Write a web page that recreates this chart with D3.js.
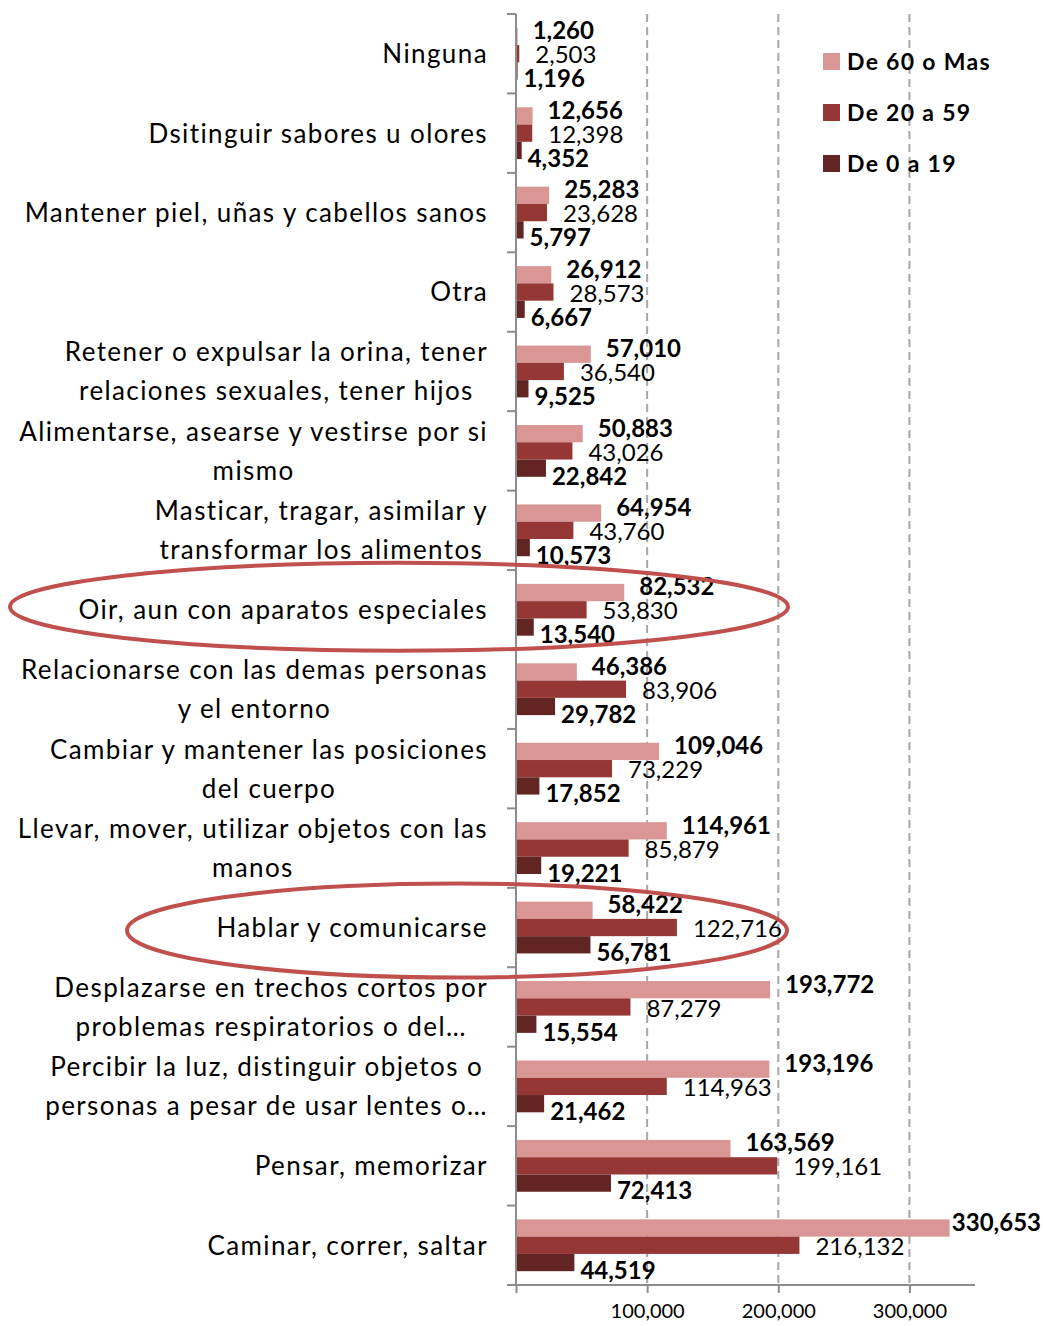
<!DOCTYPE html>
<html>
<head>
<meta charset="utf-8">
<script src="https://cdn.jsdelivr.net/npm/d3@7"></script>
<style>
  body { margin: 0; background: #fff; }
  svg text { font-family: Lato, "Open Sans", sans-serif; fill: #000; }
</style>
</head>
<body>
<svg id="chart"></svg>
<script>
// categories top to bottom, "\n" marks a line break
const categories = [
    "Ninguna",
    "Dsitinguir sabores u olores",
    "Mantener piel, uñas y cabellos sanos",
    "Otra",
    "Retener o expulsar la orina, tener\nrelaciones sexuales, tener hijos",
    "Alimentarse, asearse y vestirse por si\nmismo",
    "Masticar, tragar, asimilar y\ntransformar los alimentos",
    "Oir, aun con aparatos especiales",
    "Relacionarse con las demas personas\ny el entorno",
    "Cambiar y mantener las posiciones\ndel cuerpo",
    "Llevar, mover, utilizar objetos con las\nmanos",
    "Hablar y comunicarse",
    "Desplazarse en trechos cortos por\nproblemas respiratorios o del…",
    "Percibir la luz, distinguir objetos o\npersonas a pesar de usar lentes o…",
    "Pensar, memorizar",
    "Caminar, correr, saltar"
];
const seriesNames = ["De 60 o Mas", "De 20 a 59", "De 0 a 19"];
const de60 = [1260, 12656, 25283, 26912, 57010, 50883, 64954, 82532, 46386, 109046, 114961, 58422, 193772, 193196, 163569, 330653];
const de20 = [2503, 12398, 23628, 28573, 36540, 43026, 43760, 53830, 83906, 73229, 85879, 122716, 87279, 114963, 199161, 216132];
const de0 = [1196, 4352, 5797, 6667, 9525, 22842, 10573, 13540, 29782, 17852, 19221, 56781, 15554, 21462, 72413, 44519];
const xTicks = [100000, 200000, 300000];
const highlighted = ["Oir, aun con aparatos especiales", "Hablar y comunicarse"];

const colors = ["#d99694", "#953735", "#632523"];
const seriesValues = [de60, de20, de0];

const width = 1043, height = 1326;
const svg = d3.select("#chart").attr("width", width).attr("height", height);

const xScale = d3.scaleLinear().domain([0, 350000]).range([516, 975]);
const yScale = d3.scaleBand().domain(categories).range([14, 1285]);
const ySub = d3.scaleBand().domain(seriesNames).range([0, yScale.bandwidth()]).paddingOuter(0.8);

// gridlines
svg.append("g")
    .selectAll("line")
    .data(xTicks)
    .join("line")
    .attr("x1", d => xScale(d)).attr("x2", d => xScale(d))
    .attr("y1", 14).attr("y2", 1285)
    .attr("stroke", "#a6a6a6")
    .attr("stroke-width", 2)
    .attr("stroke-dasharray", "8,5");

// bars
const rows = categories.map((c, i) => ({
    cat: c,
    vals: seriesNames.map((s, j) => ({series: s, j: j, value: seriesValues[j][i]}))
}));

const groups = svg.append("g")
    .selectAll("g")
    .data(rows)
    .join("g")
    .attr("transform", d => `translate(0,${yScale(d.cat)})`);

groups.selectAll("rect")
    .data(d => d.vals)
    .join("rect")
    .attr("x", xScale(0))
    .attr("y", d => ySub(d.series))
    .attr("width", d => xScale(d.value) - xScale(0))
    .attr("height", ySub.bandwidth())
    .attr("fill", d => colors[d.j]);

// value labels, kept inside the chart area on the right
const labelDx = [15, 16, 6];
const rightLimit = 1041;
groups.selectAll("text.val")
    .data(d => d.vals)
    .join("text")
    .attr("class", "val")
    .attr("y", d => yScale.bandwidth() / 2 + 1 + (d.j - 1) * 24)
    .attr("dy", "0.36em")
    .style("font-size", "24px")
    .style("font-weight", d => d.j === 1 ? 400 : 700)
    .text(d => d3.format(",")(d.value))
    .attr("x", function (d) {
        const w = this.getComputedTextLength();
        return Math.min(xScale(d.value) + labelDx[d.j], rightLimit - w);
    });

// y axis
const yAxisG = svg.append("g").attr("class", "y-axis");
yAxisG.append("line")
    .attr("x1", xScale(0)).attr("x2", xScale(0))
    .attr("y1", 14).attr("y2", 1285)
    .attr("stroke", "#8c8c8c").attr("stroke-width", 2);
const bounds = categories.map(c => yScale(c)).concat([yScale.range()[1]]);
yAxisG.selectAll("line.tick")
    .data(bounds)
    .join("line")
    .attr("class", "tick")
    .attr("x1", xScale(0) - 9).attr("x2", xScale(0))
    .attr("y1", d => d).attr("y2", d => d)
    .attr("stroke", "#8c8c8c").attr("stroke-width", 2);

// category labels
const labelRight = 488;
const labelG = svg.append("g");
categories.forEach(c => {
    const lines = c.split("\n");
    const cy = yScale(c) + yScale.bandwidth() / 2;
    const t = labelG.append("text")
        .style("font-size", "26px")
        .style("letter-spacing", "1.4px")
        .attr("text-anchor", "middle");
    lines.forEach((ln, k) => {
        t.append("tspan")
            .attr("x", 0)
            .attr("y", cy + (k - (lines.length - 1) / 2) * 39)
            .attr("dy", "0.36em")
            .text(ln);
    });
    const w = d3.max(t.selectAll("tspan").nodes(), n => n.getComputedTextLength());
    t.selectAll("tspan").attr("x", labelRight - w / 2);
});

// x axis
const xAxis = d3.axisBottom(xScale).tickValues([0].concat(xTicks)).tickSize(8)
    .tickFormat(d => d === 0 ? "" : d3.format(",")(d));
svg.append("g")
    .attr("class", "x-axis")
    .attr("transform", "translate(0,1285)")
    .call(xAxis)
    .call(g => g.select(".domain").attr("d", `M${xScale(0) - 9},0H${xScale(350000)}`)
        .attr("stroke", "#8c8c8c").attr("stroke-width", 2))
    .call(g => g.selectAll(".tick line").attr("stroke", "#8c8c8c").attr("stroke-width", 2))
    .call(g => g.selectAll(".tick text").attr("y", 19).style("font-size", "20px")
        .style("font-family", "Lato, sans-serif").attr("fill", "#000"));

// legend
const legend = svg.append("g").attr("transform", "translate(823,53)");
const li = legend.selectAll("g")
    .data(seriesNames)
    .join("g")
    .attr("transform", (d, i) => `translate(0,${i * 51})`);
li.append("rect").attr("width", 17).attr("height", 17).attr("fill", (d, i) => colors[i]);
li.append("text")
    .attr("x", 24).attr("y", 8.5).attr("dy", "0.36em")
    .style("font-size", "23px").style("font-weight", 700)
    .style("letter-spacing", "1.3px")
    .text(d => d);

// highlight ellipses
const ellipseSpec = [{cx: 399, rx: 389, ry: 44, dy: -3}, {cx: 457, rx: 330, ry: 47, dy: 3}];
svg.append("g")
    .selectAll("ellipse")
    .data(highlighted)
    .join("ellipse")
    .attr("cx", (d, i) => ellipseSpec[i].cx)
    .attr("cy", (d, i) => yScale(d) + yScale.bandwidth() / 2 + ellipseSpec[i].dy)
    .attr("rx", (d, i) => ellipseSpec[i].rx)
    .attr("ry", (d, i) => ellipseSpec[i].ry)
    .attr("fill", "none")
    .attr("stroke", "#c0504d")
    .attr("stroke-width", 4);
</script>
</body>
</html>
